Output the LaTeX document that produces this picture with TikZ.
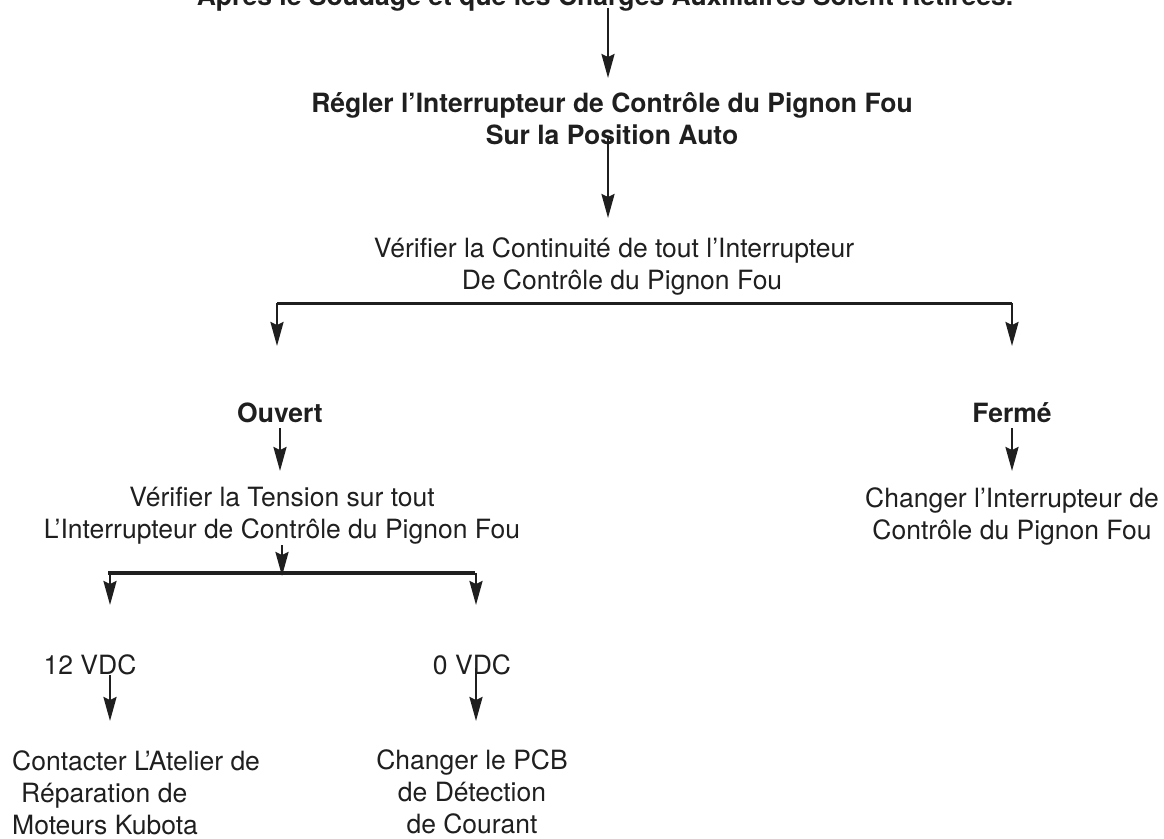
\documentclass[tikz,border=0pt]{standalone}
\usepackage{fontspec}
\setmainfont{TeX Gyre Heros}
\usetikzlibrary{arrows.meta}
\begin{document}
\begin{tikzpicture}[x=1pt,y=-1pt,
  txt/.style={inner sep=0pt,align=center,font=\fontsize{26.5}{32}\selectfont,text=black!88},
  btxt/.style={txt,font=\fontsize{26.5}{32}\selectfont\bfseries},
  conn/.style={line width=2.6pt,black!88},
  hline/.style={line width=3pt,black!88},
  bar/.style={line width=4pt,black!88},
  arr/.style={conn,-{Stealth[length=24pt,width=13pt,inset=3pt]}}]
\useasboundingbox (0,0) rectangle (1164,838);
% texts
\node[btxt,anchor=base] (top) at (605,5) {Après le Soudage et que les Charges Auxiliaires Soient Retirées.};
\node[btxt] (regler) at (612,119) {Régler l’Interrupteur de Contrôle du Pignon Fou\\Sur la Position Auto};
\node[txt] (verif) at (614,266) {Vérifier la Continuité de tout l’Interrupteur\\\hspace*{16pt}De Contrôle du Pignon Fou};
\node[btxt] (ouvert) at (280,413) {Ouvert};
\node[btxt] (ferme) at (1012,413) {Fermé};
\node[txt] (tension) at (282,516) {Vérifier la Tension sur tout\\L’Interrupteur de Contrôle du Pignon Fou};
\node[txt] (changer) at (1012,516) {Changer l’Interrupteur de\\Contrôle du Pignon Fou};
\node[txt] (v12) at (90,665) {12 VDC};
\node[txt] (v0) at (472,665) {0 VDC};
\node[txt,align=left,anchor=north west] (kubota) at (12,750) {Contacter L’Atelier de\\\hspace*{9pt}Réparation de\\Moteurs Kubota};
\node[txt] (pcb) at (472,792) {Changer le PCB\\de Détection\\de Courant};
% coordinates
\coordinate (a1s) at (608,8);   \coordinate (a1e) at (608,78);
\coordinate (a2s) at (608,138); \coordinate (a2e) at (608,218);
\coordinate (bL) at (277,303);  \coordinate (bR) at (1012,303);
\coordinate (bLe) at (277,346); \coordinate (bRe) at (1012,346);
\coordinate (oS) at (280,428);  \coordinate (oE) at (280,471);
\coordinate (fS) at (1012,428); \coordinate (fE) at (1012,471);
\coordinate (tS) at (282,545);  \coordinate (tE) at (282,576);
\coordinate (cL) at (108,573);  \coordinate (cR) at (475,573);
\coordinate (cLs) at (110,573); \coordinate (cLe) at (110,605);
\coordinate (cRs) at (476,573); \coordinate (cRe) at (476,605);
\coordinate (v12s) at (110,675); \coordinate (v12e) at (110,721);
\coordinate (v0s) at (476,668); \coordinate (v0e) at (476,721);
% connectors
\draw[hline] (bL) -- (bR);
\draw[arr] (a1s) -- (a1e);
\draw[arr] (a2s) -- (a2e);
\draw[arr] (bL) -- (bLe);
\draw[arr] (bR) -- (bRe);
\draw[arr] (oS) -- (oE);
\draw[arr] (fS) -- (fE);
\draw[bar] (cL) -- (cR);
\draw[arr] (tS) -- (tE);
\draw[arr] (cLs) -- (cLe);
\draw[arr] (cRs) -- (cRe);
\draw[arr] (v12s) -- (v12e);
\draw[arr] (v0s) -- (v0e);
\end{tikzpicture}
\end{document}
